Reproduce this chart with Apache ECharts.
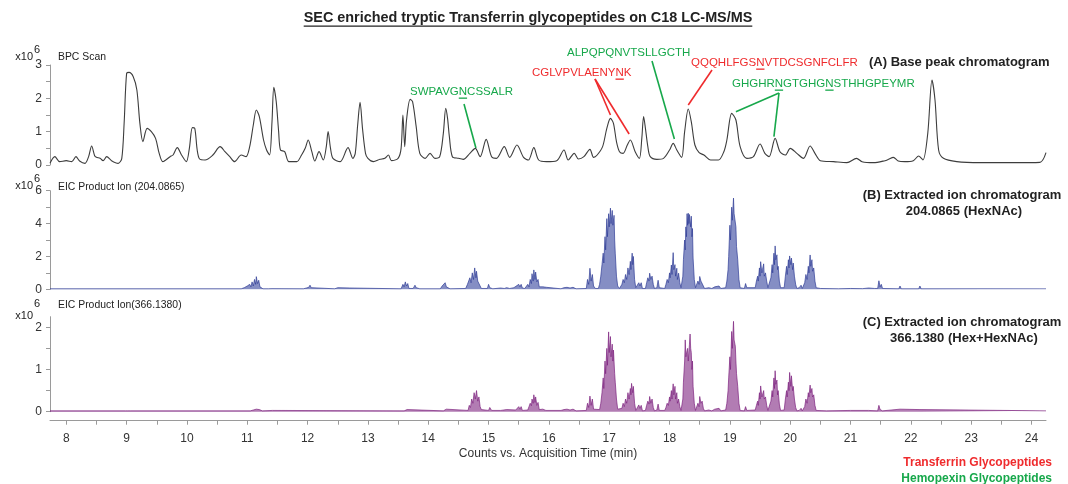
<!DOCTYPE html>
<html>
<head>
<meta charset="utf-8">
<script src="https://cdn.jsdelivr.net/npm/echarts@6/dist/echarts.min.js"></script>
<style>
  html, body { margin: 0; padding: 0; background: #ffffff; }
  #chart { width: 1068px; height: 484px; }
</style>
</head>
<body>
<div id="chart"></div>
<script>
// Base peak chromatogram: [retention time (min), intensity (x10^6 counts)]
const bpcScan = [
  [7.73,0.05],[7.81,0.25],[7.89,0.1],[8.0,0.13],[8.09,0.1],[8.16,0.25],[8.22,0.12],[8.31,0.05],[8.37,0.25],[8.42,0.57],
  [8.47,0.28],[8.5,0.23],[8.56,0.2],[8.61,0.13],[8.67,0.25],[8.75,0.13],[8.86,0.05],[8.92,0.2],[8.96,1.3],[9.0,2.75],
  [9.04,2.78],[9.11,2.65],[9.17,2.25],[9.22,1.25],[9.27,0.7],[9.34,1.1],[9.41,1.0],[9.48,0.8],[9.54,0.35],[9.6,0.1],
  [9.72,0.25],[9.77,0.3],[9.84,0.52],[9.91,0.3],[9.99,0.1],[10.04,0.5],[10.09,1.12],[10.13,1.1],[10.17,0.45],[10.21,0.18],
  [10.3,0.15],[10.43,0.3],[10.55,0.55],[10.63,0.4],[10.71,0.25],[10.79,0.1],[10.9,0.3],[10.98,0.25],[11.04,0.55],[11.1,1.2],
  [11.15,1.65],[11.2,1.45],[11.27,0.75],[11.32,0.45],[11.37,0.3],[11.41,1.3],[11.44,2.33],[11.48,1.9],[11.52,1.0],[11.55,0.45],
  [11.62,0.4],[11.69,0.1],[11.82,0.1],[11.9,0.3],[11.96,0.5],[12.01,0.75],[12.07,0.4],[12.12,0.12],[12.19,0.4],[12.26,0.15],
  [12.31,0.55],[12.34,1.0],[12.38,0.5],[12.42,0.2],[12.54,0.1],[12.67,0.52],[12.75,0.2],[12.79,0.35],[12.83,1.2],[12.87,1.88],
  [12.91,1.1],[12.96,0.35],[13.0,0.2],[13.09,0.1],[13.2,0.17],[13.28,0.2],[13.34,0.3],[13.39,0.13],[13.5,0.2],[13.55,0.5],
  [13.58,1.5],[13.61,0.55],[13.64,1.35],[13.7,1.97],[13.74,1.9],[13.8,1.15],[13.86,0.35],[13.95,0.2],[14.03,0.35],[14.11,0.2],
  [14.19,0.25],[14.25,0.95],[14.29,1.7],[14.32,1.4],[14.35,0.85],[14.4,0.25],[14.5,0.2],[14.58,0.17],[14.69,0.35],[14.78,0.5],
  [14.86,0.25],[14.96,0.77],[15.05,0.25],[15.13,0.2],[15.26,0.55],[15.35,0.23],[15.47,0.6],[15.58,0.23],[15.66,0.15],[15.75,0.52],
  [15.83,0.15],[15.96,0.1],[16.13,0.13],[16.25,0.45],[16.32,0.15],[16.42,0.35],[16.49,0.18],[16.58,0.25],[16.68,0.47],[16.74,0.23],
  [16.8,0.3],[16.89,0.55],[16.96,1.1],[17.02,1.4],[17.07,1.25],[17.12,0.7],[17.17,0.4],[17.23,0.35],[17.3,0.6],[17.35,0.75],
  [17.43,0.4],[17.5,0.2],[17.54,0.8],[17.57,1.45],[17.6,1.1],[17.64,0.55],[17.68,0.25],[17.79,0.17],[17.9,0.2],[18.0,0.45],
  [18.06,0.65],[18.12,0.45],[18.2,0.23],[18.25,1.0],[18.31,1.68],[18.36,1.3],[18.42,0.6],[18.49,0.37],[18.57,0.3],[18.68,0.15],
  [18.81,0.15],[18.9,0.4],[18.95,0.75],[19.03,1.55],[19.1,1.35],[19.17,0.55],[19.28,0.2],[19.39,0.25],[19.5,0.63],[19.58,0.35],
  [19.65,0.25],[19.75,0.8],[19.83,0.4],[19.92,0.3],[20.0,0.5],[20.11,0.35],[20.22,0.2],[20.33,0.57],[20.41,0.35],[20.5,0.13],
  [20.72,0.1],[20.94,0.07],[21.1,0.2],[21.19,0.1],[21.38,0.07],[21.57,0.13],[21.63,0.17],[21.71,0.23],[21.79,0.12],[21.9,0.1],
  [22.04,0.13],[22.13,0.27],[22.2,0.15],[22.28,0.95],[22.35,2.55],[22.4,1.95],[22.46,0.45],[22.54,0.2],[22.76,0.1],[23.15,0.07],
  [23.7,0.07],[24.14,0.08],[24.24,0.37]
];

// Extracted ion chromatogram, product ion 204.0865 (HexNAc oxonium)
const eic204 = [
  [7.73,0.03],[10.9,0.03],[10.95,0.1],[10.98,0.05],[11.0,0.2],[11.02,0.1],[11.04,0.3],[11.06,0.15],[11.08,0.45],[11.1,0.2],
  [11.12,0.6],[11.14,0.3],[11.15,0.77],[11.17,0.35],[11.19,0.55],[11.21,0.15],[11.23,0.1],[11.26,0.03],[11.35,0.03],[11.38,0.12],
  [11.41,0.04],[11.93,0.03],[11.96,0.12],[11.98,0.08],[12.0,0.2],[12.02,0.12],[12.04,0.25],[12.06,0.1],[12.09,0.03],[12.45,0.03],
  [12.5,0.1],[12.53,0.03],[12.7,0.08],[12.73,0.03],[13.55,0.03],[13.58,0.3],[13.6,0.15],[13.62,0.45],[13.64,0.2],[13.66,0.35],
  [13.68,0.05],[13.75,0.05],[13.78,0.25],[13.8,0.1],[13.83,0.2],[13.86,0.03],[14.2,0.03],[14.23,0.2],[14.26,0.1],[14.28,0.4],
  [14.3,0.15],[14.33,0.25],[14.36,0.03],[14.62,0.05],[14.65,0.3],[14.67,0.2],[14.69,0.7],[14.71,0.4],[14.73,1.0],[14.75,0.6],
  [14.77,1.3],[14.79,0.7],[14.8,1.1],[14.82,0.5],[14.84,0.6],[14.86,0.2],[14.88,0.05],[14.98,0.05],[15.0,0.3],[15.02,0.1],
  [15.05,0.2],[15.07,0.03],[15.2,0.08],[15.23,0.12],[15.26,0.05],[15.3,0.1],[15.35,0.05],[15.42,0.1],[15.45,0.05],[15.5,0.3],
  [15.52,0.15],[15.54,0.3],[15.56,0.08],[15.6,0.05],[15.62,0.05],[15.65,0.3],[15.67,0.15],[15.69,0.6],[15.71,0.35],[15.72,0.95],
  [15.74,0.5],[15.75,1.18],[15.77,0.6],[15.78,1.05],[15.8,0.45],[15.82,0.6],[15.84,0.15],[15.87,0.05],[15.9,0.15],[15.93,0.05],
  [15.96,0.12],[15.99,0.03],[16.2,0.03],[16.25,0.1],[16.3,0.12],[16.35,0.08],[16.4,0.12],[16.45,0.03],[16.62,0.05],[16.64,0.6],
  [16.66,0.3],[16.68,1.28],[16.7,0.5],[16.72,0.9],[16.74,0.2],[16.77,0.05],[16.82,0.05],[16.84,0.3],[16.86,0.8],[16.88,1.5],
  [16.9,2.2],[16.91,1.6],[16.93,3.2],[16.94,2.4],[16.96,4.3],[16.97,3.2],[16.99,4.6],[17.0,3.8],[17.02,4.94],[17.03,4.0],
  [17.05,4.8],[17.06,3.9],[17.08,4.5],[17.09,3.0],[17.1,2.2],[17.12,0.8],[17.14,0.2],[17.17,0.05],[17.19,0.05],[17.21,0.3],
  [17.23,0.6],[17.25,0.4],[17.27,0.9],[17.29,0.6],[17.31,1.3],[17.33,0.9],[17.35,1.7],[17.36,1.2],[17.38,2.2],[17.39,1.5],
  [17.4,2.0],[17.42,0.6],[17.44,0.1],[17.47,0.05],[17.49,0.4],[17.51,0.2],[17.53,0.4],[17.55,0.05],[17.6,0.05],[17.62,0.4],
  [17.64,0.7],[17.66,0.5],[17.67,0.98],[17.69,0.6],[17.71,0.8],[17.73,0.3],[17.75,0.05],[17.79,0.1],[17.81,0.55],[17.83,0.1],
  [17.92,0.05],[17.94,0.3],[17.96,0.6],[17.98,0.4],[18.0,1.0],[18.01,0.7],[18.03,1.48],[18.04,0.9],[18.06,2.23],[18.07,1.2],
  [18.09,1.5],[18.1,0.8],[18.12,1.28],[18.13,0.6],[18.15,0.98],[18.17,0.4],[18.19,0.1],[18.2,0.1],[18.22,0.8],[18.23,1.8],
  [18.25,3.0],[18.26,2.4],[18.27,3.8],[18.28,3.2],[18.29,4.6],[18.3,3.9],[18.31,4.63],[18.32,4.0],[18.33,4.55],[18.35,3.8],
  [18.36,4.45],[18.37,3.2],[18.38,3.7],[18.39,1.9],[18.41,0.6],[18.43,0.1],[18.45,0.1],[18.47,0.5],[18.49,0.3],[18.5,0.78],
  [18.52,0.5],[18.54,0.6],[18.56,0.2],[18.58,0.05],[18.65,0.1],[18.7,0.05],[18.75,0.15],[18.78,0.05],[18.82,0.2],[18.85,0.05],
  [18.88,0.1],[18.93,0.1],[18.95,0.5],[18.97,1.2],[18.98,2.0],[19.0,3.9],[19.01,3.0],[19.03,5.0],[19.04,4.2],[19.06,5.55],
  [19.07,4.6],[19.09,4.6],[19.1,3.8],[19.11,2.6],[19.13,1.8],[19.15,0.6],[19.17,0.1],[19.24,0.05],[19.26,0.35],[19.28,0.1],
  [19.42,0.1],[19.44,0.5],[19.46,0.8],[19.47,0.5],[19.49,1.3],[19.5,0.8],[19.51,1.68],[19.53,1.0],[19.54,1.2],[19.56,1.55],
  [19.57,0.8],[19.59,1.0],[19.61,0.5],[19.63,0.1],[19.66,0.1],[19.68,0.7],[19.7,1.5],[19.71,1.0],[19.73,2.2],[19.74,1.5],
  [19.75,2.64],[19.76,1.8],[19.78,2.1],[19.79,1.2],[19.8,1.4],[19.82,0.5],[19.84,0.1],[19.9,0.1],[19.92,0.8],[19.94,1.4],
  [19.95,0.9],[19.97,1.8],[19.98,1.3],[19.99,2.03],[20.01,1.5],[20.02,1.9],[20.04,1.2],[20.05,1.6],[20.07,0.8],[20.09,0.3],
  [20.11,0.05],[20.15,0.1],[20.18,0.25],[20.2,0.05],[20.22,0.1],[20.24,0.4],[20.26,0.9],[20.28,0.6],[20.3,1.4],[20.31,1.0],
  [20.33,2.09],[20.34,1.4],[20.36,1.8],[20.37,1.1],[20.39,1.3],[20.41,0.5],[20.43,0.1],[20.5,0.05],[20.8,0.03],[21.0,0.05],
  [21.2,0.04],[21.3,0.08],[21.4,0.05],[21.45,0.05],[21.47,0.52],[21.49,0.15],[21.51,0.3],[21.53,0.05],[21.8,0.03],[21.82,0.2],
  [21.84,0.03],[22.13,0.03],[22.15,0.2],[22.17,0.03],[24.24,0.03]
];

// Extracted ion chromatogram, product ion 366.1380 (Hex+HexNAc oxonium)
const eic366 = [
  [7.73,0.02],[8.98,0.02],[9.0,0.06],[9.02,0.02],[9.05,0.04],[9.07,0.02],[11.05,0.02],[11.1,0.04],[11.15,0.06],[11.2,0.05],
  [11.25,0.02],[11.42,0.03],[11.45,0.02],[13.6,0.02],[13.65,0.05],[13.68,0.02],[14.25,0.02],[14.3,0.06],[14.33,0.02],[14.66,0.03],
  [14.68,0.15],[14.7,0.1],[14.72,0.3],[14.74,0.2],[14.76,0.45],[14.78,0.3],[14.8,0.5],[14.82,0.25],[14.84,0.35],[14.86,0.12],
  [14.88,0.05],[15.0,0.03],[15.02,0.1],[15.05,0.03],[15.2,0.03],[15.3,0.05],[15.45,0.04],[15.5,0.12],[15.52,0.06],[15.54,0.12],
  [15.56,0.03],[15.65,0.04],[15.67,0.12],[15.69,0.2],[15.71,0.14],[15.72,0.3],[15.74,0.2],[15.75,0.4],[15.77,0.22],[15.78,0.35],
  [15.8,0.15],[15.82,0.22],[15.84,0.05],[15.9,0.06],[15.95,0.03],[16.2,0.03],[16.25,0.05],[16.3,0.06],[16.35,0.04],[16.4,0.06],
  [16.45,0.02],[16.62,0.03],[16.64,0.2],[16.66,0.1],[16.68,0.37],[16.7,0.15],[16.72,0.3],[16.74,0.06],[16.77,0.02],[16.84,0.05],
  [16.86,0.2],[16.88,0.45],[16.9,0.8],[16.91,0.55],[16.93,1.2],[16.94,0.9],[16.96,1.5],[16.97,1.1],[16.99,1.89],[17.0,1.4],
  [17.02,1.78],[17.03,1.3],[17.05,1.6],[17.06,1.2],[17.07,1.46],[17.09,0.9],[17.1,0.7],[17.12,0.3],[17.14,0.06],[17.17,0.02],
  [17.21,0.08],[17.23,0.2],[17.25,0.12],[17.27,0.3],[17.29,0.2],[17.31,0.45],[17.33,0.3],[17.35,0.55],[17.36,0.4],[17.37,0.67],
  [17.39,0.45],[17.4,0.6],[17.42,0.2],[17.44,0.03],[17.47,0.02],[17.49,0.16],[17.51,0.08],[17.53,0.15],[17.55,0.02],[17.6,0.03],
  [17.62,0.15],[17.64,0.25],[17.66,0.18],[17.67,0.36],[17.69,0.2],[17.71,0.3],[17.73,0.1],[17.75,0.02],[17.79,0.04],[17.81,0.18],
  [17.83,0.03],[17.92,0.03],[17.94,0.1],[17.96,0.2],[17.98,0.15],[18.0,0.35],[18.01,0.25],[18.03,0.5],[18.04,0.3],[18.06,0.66],
  [18.07,0.4],[18.09,0.6],[18.1,0.3],[18.12,0.45],[18.13,0.2],[18.15,0.3],[18.17,0.12],[18.19,0.03],[18.2,0.04],[18.22,0.3],
  [18.23,0.7],[18.25,1.2],[18.26,1.7],[18.27,1.3],[18.29,1.45],[18.3,1.5],[18.31,1.2],[18.33,1.6],[18.34,1.84],[18.35,1.5],
  [18.36,1.4],[18.37,1.0],[18.38,1.2],[18.39,0.6],[18.41,0.2],[18.43,0.03],[18.45,0.03],[18.47,0.2],[18.49,0.12],[18.5,0.36],
  [18.52,0.2],[18.54,0.25],[18.56,0.08],[18.58,0.02],[18.65,0.04],[18.7,0.02],[18.75,0.06],[18.78,0.02],[18.82,0.08],[18.85,0.02],
  [18.88,0.04],[18.93,0.04],[18.95,0.2],[18.97,0.5],[18.98,0.8],[19.0,1.3],[19.01,1.0],[19.03,1.9],[19.04,1.5],[19.06,2.14],
  [19.07,1.7],[19.09,1.55],[19.1,1.2],[19.11,0.9],[19.13,0.6],[19.15,0.2],[19.17,0.03],[19.24,0.02],[19.26,0.12],[19.28,0.03],
  [19.42,0.04],[19.44,0.15],[19.46,0.25],[19.47,0.15],[19.49,0.45],[19.5,0.3],[19.51,0.61],[19.53,0.35],[19.54,0.4],[19.56,0.5],
  [19.57,0.3],[19.59,0.35],[19.61,0.15],[19.63,0.03],[19.66,0.04],[19.68,0.25],[19.7,0.5],[19.71,0.35],[19.73,0.8],[19.74,0.55],
  [19.75,0.97],[19.76,0.65],[19.78,0.75],[19.79,0.4],[19.8,0.5],[19.82,0.18],[19.84,0.03],[19.9,0.04],[19.92,0.3],[19.94,0.5],
  [19.95,0.35],[19.97,0.7],[19.98,0.5],[19.99,0.93],[20.01,0.6],[20.02,0.85],[20.04,0.5],[20.05,0.6],[20.07,0.3],[20.09,0.1],
  [20.11,0.02],[20.15,0.03],[20.18,0.08],[20.2,0.02],[20.22,0.03],[20.24,0.12],[20.26,0.3],[20.28,0.2],[20.3,0.45],[20.31,0.35],
  [20.33,0.63],[20.34,0.45],[20.36,0.55],[20.37,0.35],[20.39,0.4],[20.41,0.15],[20.43,0.03],[20.6,0.02],[21.0,0.03],[21.3,0.03],
  [21.45,0.02],[21.47,0.15],[21.49,0.05],[21.51,0.08],[21.53,0.02],[21.82,0.06],[21.84,0.02],[22.15,0.05],[22.17,0.02],[24.24,0.02]
];

// Axis ticks
const timeTicks = [8,9,10,11,12,13,14,15,16,17,18,19,20,21,22,23,24];
const timeMinorTicks = [8,8.5,9,9.5,10,10.5,11,11.5,12,12.5,13,13.5,14,14.5,15,15.5,16,16.5,17,17.5,18,18.5,19,19.5,20,20.5,21,21.5,22,22.5,23,23.5,24];
const bpcTicks = [0,1,2,3];
const eic204Ticks = [0,2,4,6];
const eic366Ticks = [0,1,2];

// Annotated glycopeptides: sequence, glycosylated Asn positions, protein, peaks they point to
const peptideSeqs = ['SWPAVGNCSSALR','ALPQPQNVTSLLGCTH','CGLVPVLAENYNK','QQQHLFGSNVTDCSGNFCLFR','GHGHRNGTGHGNSTHHGPEYMR'];
const peptideSites = [[6],[],[11],[8],[5,11]];
const peptideProtein = ['Hemopexin','Hemopexin','Transferrin','Transferrin','Hemopexin'];
const peptidePeaks = [
  [[14.79,0.51]],
  [[18.08,0.78]],
  [[17.02,1.5],[17.33,0.93]],
  [[18.31,1.8]],
  [[19.1,1.6],[19.73,0.85]]
];

const RED = '#ef2b2d';
const GREEN = '#17a84b';
const FONT = '"Liberation Sans", Arial, sans-serif';
const proteinColor = { Transferrin: RED, Hemopexin: GREEN };

const chart = echarts.init(document.getElementById('chart'), null, { renderer: 'canvas' });

const X_MIN = 7.73, X_MAX = 24.24;
const GRID_LEFT = 50, GRID_W = 996;

function yAxisFor(idx, max, ticks, halfTicks) {
  return {
    type: 'value', gridIndex: idx, min: 0, max: max,
    axisLine: { show: true, lineStyle: { color: '#9a9a9a', width: 1 } },
    axisTick: { show: true, length: 4, customValues: halfTicks, lineStyle: { color: '#9a9a9a' } },
    axisLabel: { show: true, customValues: ticks, color: '#333', fontSize: 12, fontFamily: FONT, margin: 8 },
    splitLine: { show: false }
  };
}
function hiddenX(idx) {
  return { type: 'value', gridIndex: idx, min: X_MIN, max: X_MAX, show: false };
}

const option = {
  animation: false,
  backgroundColor: '#ffffff',
  grid: [
    { left: GRID_LEFT, width: GRID_W, top: 65, height: 100 },
    { left: GRID_LEFT, width: GRID_W, top: 190.7, height: 98.6 },
    { left: GRID_LEFT, width: GRID_W, top: 316.7, height: 95 }
  ],
  xAxis: [
    hiddenX(0),
    hiddenX(1),
    {
      type: 'value', gridIndex: 2, min: X_MIN, max: X_MAX, offset: 9,
      axisLine: { show: true, onZero: false, lineStyle: { color: '#9a9a9a' } },
      axisTick: { show: true, length: 4, customValues: timeMinorTicks, lineStyle: { color: '#9a9a9a' } },
      axisLabel: { customValues: timeTicks, color: '#333', fontSize: 12, fontFamily: FONT, margin: 12 },
      splitLine: { show: false },
      name: 'Counts vs. Acquisition Time (min)', nameLocation: 'middle', nameGap: 27,
      nameTextStyle: { color: '#333', fontSize: 12, fontFamily: FONT }
    }
  ],
  yAxis: [
    yAxisFor(0, 3, bpcTicks, [0,0.5,1,1.5,2,2.5,3]),
    yAxisFor(1, 6, eic204Ticks, [0,1,2,3,4,5,6]),
    yAxisFor(2, 2.25, eic366Ticks, [0,0.5,1,1.5,2])
  ],
  series: [
    {
      name: 'BPC Scan', type: 'line', xAxisIndex: 0, yAxisIndex: 0, data: bpcScan,
      showSymbol: false, smooth: 0.3, silent: true,
      lineStyle: { color: '#3d3d3d', width: 1.1 }
    },
    {
      name: 'EIC 204.0865', type: 'line', xAxisIndex: 1, yAxisIndex: 1, data: eic204,
      showSymbol: false, silent: true,
      lineStyle: { color: '#2c3a94', width: 0.8, opacity: 0.85 },
      areaStyle: { color: '#33439c', opacity: 0.6 }
    },
    {
      name: 'EIC 366.1380', type: 'line', xAxisIndex: 2, yAxisIndex: 2, data: eic366,
      showSymbol: false, silent: true,
      lineStyle: { color: '#7b1f7d', width: 0.8, opacity: 0.85 },
      areaStyle: { color: '#7e2580', opacity: 0.6 }
    }
  ]
};
chart.setOption(option);

// ---- text decorations and peak call-outs ----
const measureCtx = document.createElement('canvas').getContext('2d');
function textWidth(str, font) { measureCtx.font = font; return measureCtx.measureText(str).width; }

function txt(x, y, text, opts) {
  opts = opts || {};
  return {
    type: 'text', x: x, y: y, silent: true,
    style: {
      text: text, fill: opts.color || '#222', fontSize: opts.size || 11,
      fontWeight: opts.weight || 'normal', fontFamily: FONT,
      align: opts.align || 'left', verticalAlign: opts.valign || 'middle'
    }
  };
}

const graphics = [];

// chart title, underlined
const titleText = 'SEC enriched tryptic Transferrin glycopeptides on C18 LC-MS/MS';
const titleW = textWidth(titleText, 'bold 14.4px ' + FONT);
graphics.push(txt(528, 18, titleText, { size: 14.4, weight: 'bold', align: 'center', color: '#222' }));
graphics.push({ type: 'rect', silent: true, shape: { x: 528 - titleW / 2, y: 25.5, width: titleW, height: 1.2 }, style: { fill: '#222' } });

// panel captions and exponent labels
const panelCaptions = [
  { name: 'BPC Scan', y: 57, expY: 57, supY: 50 },
  { name: 'EIC Product Ion (204.0865)', y: 187, expY: 186, supY: 179 },
  { name: 'EIC Product Ion(366.1380)', y: 305, expY: 316, supY: 304 }
];
panelCaptions.forEach(function (p) {
  graphics.push(txt(58, p.y, p.name, { size: 10.4, color: '#222' }));
  graphics.push(txt(33, p.expY, 'x10', { size: 11, align: 'right', color: '#222' }));
  graphics.push(txt(34, p.supY, '6', { size: 11, color: '#222' }));
});

// panel descriptions on the right
graphics.push(txt(869, 62, '(A) Base peak chromatogram', { size: 13, weight: 'bold', color: '#222' }));
graphics.push(txt(962, 195, '(B) Extracted ion chromatogram', { size: 13, weight: 'bold', align: 'center', color: '#222' }));
graphics.push(txt(964, 211, '204.0865 (HexNAc)', { size: 13, weight: 'bold', align: 'center', color: '#222' }));
graphics.push(txt(962, 322, '(C) Extracted ion chromatogram', { size: 13, weight: 'bold', align: 'center', color: '#222' }));
graphics.push(txt(964, 338, '366.1380 (Hex+HexNAc)', { size: 13, weight: 'bold', align: 'center', color: '#222' }));

// protein key
graphics.push(txt(1052, 463, 'Transferrin Glycopeptides', { size: 12, weight: 'bold', align: 'right', color: RED }));
graphics.push(txt(1052, 479, 'Hemopexin Glycopeptides', { size: 12, weight: 'bold', align: 'right', color: GREEN }));

// peptide call-outs: label anchor (left, middle) and start point of leader lines
const calloutLayout = [
  { at: [410, 92], from: [464, 104] },
  { at: [567, 53], from: [652, 61] },
  { at: [532, 73], from: [595, 79] },
  { at: [691, 63], from: [712, 70] },
  { at: [732, 84], from: [779, 93] }
];
const ANN_SIZE = 11.5;
const annFont = ANN_SIZE + 'px ' + FONT;
peptideSeqs.forEach(function (seq, i) {
  const color = proteinColor[peptideProtein[i]];
  const lay = calloutLayout[i];
  graphics.push(txt(lay.at[0], lay.at[1], seq, { size: ANN_SIZE, color: color }));
  peptideSites[i].forEach(function (pos) {
    const x0 = lay.at[0] + textWidth(seq.slice(0, pos), annFont);
    const w = textWidth(seq.charAt(pos), annFont);
    graphics.push({ type: 'rect', silent: true, shape: { x: x0, y: lay.at[1] + 5.5, width: w, height: 1.3 }, style: { fill: color } });
  });
  peptidePeaks[i].forEach(function (pk) {
    const p = chart.convertToPixel({ xAxisIndex: 0, yAxisIndex: 0 }, pk);
    graphics.push({
      type: 'line', silent: true,
      shape: { x1: lay.from[0], y1: lay.from[1], x2: p[0], y2: p[1] },
      style: { stroke: color, lineWidth: 1.6 }
    });
  });
});

chart.setOption({ graphic: graphics });
</script>
</body>
</html>
